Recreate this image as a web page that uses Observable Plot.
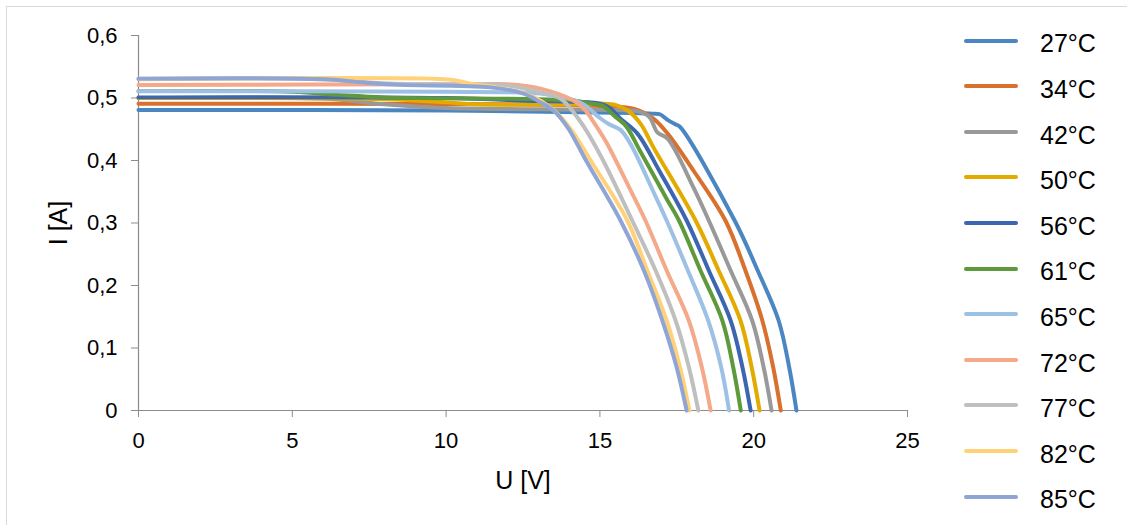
<!DOCTYPE html>
<html>
<head>
<meta charset="utf-8">
<script src="https://cdn.jsdelivr.net/npm/d3@7"></script>
<script src="https://cdn.jsdelivr.net/npm/@observablehq/plot@0.6"></script>
<style>
  body { margin: 0; background: #fff; font-family: "Liberation Sans", Arial, sans-serif; }
  #wrap { position: relative; width: 1127px; height: 525px; overflow: hidden; background: #fff; }
  #frame { position: absolute; left: 6px; top: 6px; width: 1300px; height: 700px;
           border-left: 1px solid #d9d9d9; border-top: 1px solid #d9d9d9; }
  #chart { position: absolute; left: 0; top: 0; }
  .sw { position: absolute; left: 964px; width: 54px; height: 4px; border-radius: 2px; }
  .lt { position: absolute; left: 1040px; font-size: 25px; line-height: 25px; color: #000; white-space: nowrap; }
</style>
</head>
<body>
<div id="wrap">
  <div id="frame"></div>
  <div id="chart"></div>
  <div id="legend"></div>
</div>
<script>
// ---- data ----
const temps = ["27°C", "34°C", "42°C", "50°C", "56°C", "61°C", "65°C", "72°C", "77°C", "82°C", "85°C"];
const colors = ["#4a87c2", "#d8702e", "#999999", "#e3aa00", "#3c66b0", "#5e9a3c",
                "#9dc0e5", "#f4a98a", "#bfbfbf", "#ffd27a", "#8ea5d6"];

const u27 = [0, 10, 16, 16.7, 16.95, 17.2, 17.45, 17.6, 19.38, 20.13, 20.81, 21.15, 21.39];
const i27 = [0.481, 0.48, 0.476, 0.475, 0.474, 0.465, 0.458, 0.454, 0.304, 0.224, 0.144, 0.07, 0];

const u34 = [0, 12, 15, 16.09, 16.74, 17.2, 18.04, 19.08, 19.73, 20.28, 20.63, 20.88];
const i34 = [0.491, 0.49, 0.487, 0.483, 0.467, 0.443, 0.384, 0.304, 0.224, 0.144, 0.07, 0];

const u42 = [0, 6, 8, 10, 15, 16.2, 16.6, 16.87, 17.2, 18.04, 18.54, 19.25, 19.95, 20.32, 20.58];
const i42 = [0.5, 0.499, 0.49, 0.484, 0.481, 0.479, 0.47, 0.445, 0.435, 0.357, 0.304, 0.224, 0.144, 0.07, 0];

const u50 = [0, 8, 10, 11, 14.5, 15.12, 15.5, 15.9, 16.32, 16.74, 18.11, 18.86, 19.57, 19.93, 20.19];
const i50 = [0.5, 0.498, 0.493, 0.49, 0.49, 0.491, 0.489, 0.48, 0.459, 0.421, 0.304, 0.224, 0.144, 0.07, 0];

const u56 = [0, 10, 13, 14.7, 15.0, 15.3, 15.67, 16.22, 16.97, 17.82, 18.54, 19.25, 19.63, 19.9];
const i56 = [0.501, 0.5, 0.495, 0.493, 0.491, 0.485, 0.467, 0.443, 0.38, 0.304, 0.224, 0.144, 0.07, 0];

const u61 = [0, 5, 6.5, 8, 13, 14.14, 14.6, 15.1, 15.5, 15.85, 16.32, 17.2, 17.57, 18.27, 18.98, 19.33, 19.58];
const i61 = [0.511, 0.51, 0.505, 0.501, 0.498, 0.496, 0.492, 0.487, 0.47, 0.455, 0.414, 0.336, 0.304, 0.224, 0.144, 0.07, 0];

const u65 = [0, 10, 13.07, 13.72, 14.14, 14.5, 15.0, 15.3, 15.67, 15.99, 16.74, 17.17, 17.86, 18.52, 18.94, 19.2];
const i65 = [0.511, 0.51, 0.507, 0.501, 0.497, 0.489, 0.468, 0.458, 0.449, 0.427, 0.35, 0.304, 0.224, 0.144, 0.07, 0];

const u72 = [0, 11, 12, 13.07, 14.14, 14.5, 14.79, 15.2, 15.95, 16.48, 17.17, 17.89, 18.31, 18.6];
const i72 = [0.521, 0.522, 0.522, 0.515, 0.496, 0.482, 0.462, 0.43, 0.357, 0.304, 0.224, 0.144, 0.07, 0];

const u77 = [0, 6, 7.5, 9, 10.89, 12, 13.07, 13.72, 14.37, 15.02, 16.05, 16.81, 17.46, 17.89, 18.2];
const i77 = [0.53, 0.53, 0.525, 0.522, 0.522, 0.52, 0.509, 0.499, 0.462, 0.408, 0.304, 0.224, 0.144, 0.07, 0];

const u82 = [0, 9.5, 10.2, 10.8, 11.5, 12.5, 13.1, 13.6, 14.1, 14.7, 15.89, 16.54, 17.17, 17.6, 17.91];
const i82 = [0.531, 0.531, 0.529, 0.523, 0.518, 0.508, 0.495, 0.476, 0.447, 0.4, 0.304, 0.224, 0.144, 0.07, 0];

const u85 = [0, 6, 7.5, 8.5, 11.44, 12.52, 13.07, 13.49, 13.95, 14.55, 15.67, 16.43, 17.03, 17.49, 17.82];
const i85 = [0.531, 0.53, 0.524, 0.521, 0.517, 0.507, 0.493, 0.48, 0.453, 0.4, 0.304, 0.224, 0.144, 0.07, 0];

const xTicks = [0, 5, 10, 15, 20, 25];
const yTicks = [0, 0.1, 0.2, 0.3, 0.4, 0.5, 0.6];
const yTickLabels = ["0", "0,1", "0,2", "0,3", "0,4", "0,5", "0,6"];
const xTitle = "U [V]";
const yTitle = "I [A]";

// ---- build table ----
const uSeries = [u27, u34, u42, u50, u56, u61, u65, u72, u77, u82, u85];
const iSeries = [i27, i34, i42, i50, i56, i61, i65, i72, i77, i82, i85];
const rows = temps.flatMap((t, k) => uSeries[k].map((u, j) => ({t, u, i: iSeries[k][j]})));

const axisGray = "#8c8c8c";
const font = "Liberation Sans, Arial, sans-serif";

const plot = Plot.plot({
  width: 940,
  height: 525,
  marginLeft: 138,
  marginRight: 33,
  marginTop: 35,
  marginBottom: 115,
  style: {fontFamily: font, fontSize: "22px", color: "#000", background: "transparent", overflow: "visible"},
  x: {domain: [0, 25]},
  y: {domain: [0, 0.6]},
  color: {domain: temps, range: colors},
  marks: [
    Plot.ruleY([0], {stroke: axisGray, strokeWidth: 1.2}),
    Plot.ruleX([0], {stroke: axisGray, strokeWidth: 1.2}),
    Plot.axisX({ticks: xTicks, tickSize: 7, tickPadding: 15, stroke: axisGray, fontSize: 22,
                tickFormat: d => String(d), label: null}),
    Plot.axisY({ticks: yTicks, tickSize: 7, tickPadding: 14, stroke: axisGray, fontSize: 22,
                tickFormat: d => yTickLabels[yTicks.findIndex(v => Math.abs(v - d) < 1e-9)], label: null}),
    Plot.line(rows, {x: "u", y: "i", z: "t", stroke: "t", strokeWidth: 4,
                     strokeLinecap: "round", strokeLinejoin: "round", curve: "catmull-rom"})
  ]
});
document.getElementById("chart").appendChild(plot);

// axis titles
const svg = d3.select(plot);
svg.append("text")
  .attr("x", 523).attr("y", 489)
  .attr("text-anchor", "middle")
  .attr("font-family", font).attr("font-size", 25).attr("fill", "#000")
  .text(xTitle);
svg.append("text")
  .attr("transform", "translate(66.5,223) rotate(-90)")
  .attr("text-anchor", "middle")
  .attr("font-family", font).attr("font-size", 25).attr("fill", "#000")
  .text(yTitle);

// legend
const legend = d3.select("#legend");
temps.forEach((t, k) => {
  legend.append("div").attr("class", "sw")
    .style("top", (38.5 + k * 45.6) + "px")
    .style("background", colors[k]);
  legend.append("div").attr("class", "lt")
    .style("top", (31.3 + k * 45.6) + "px")
    .text(t);
});
</script>
</body>
</html>
